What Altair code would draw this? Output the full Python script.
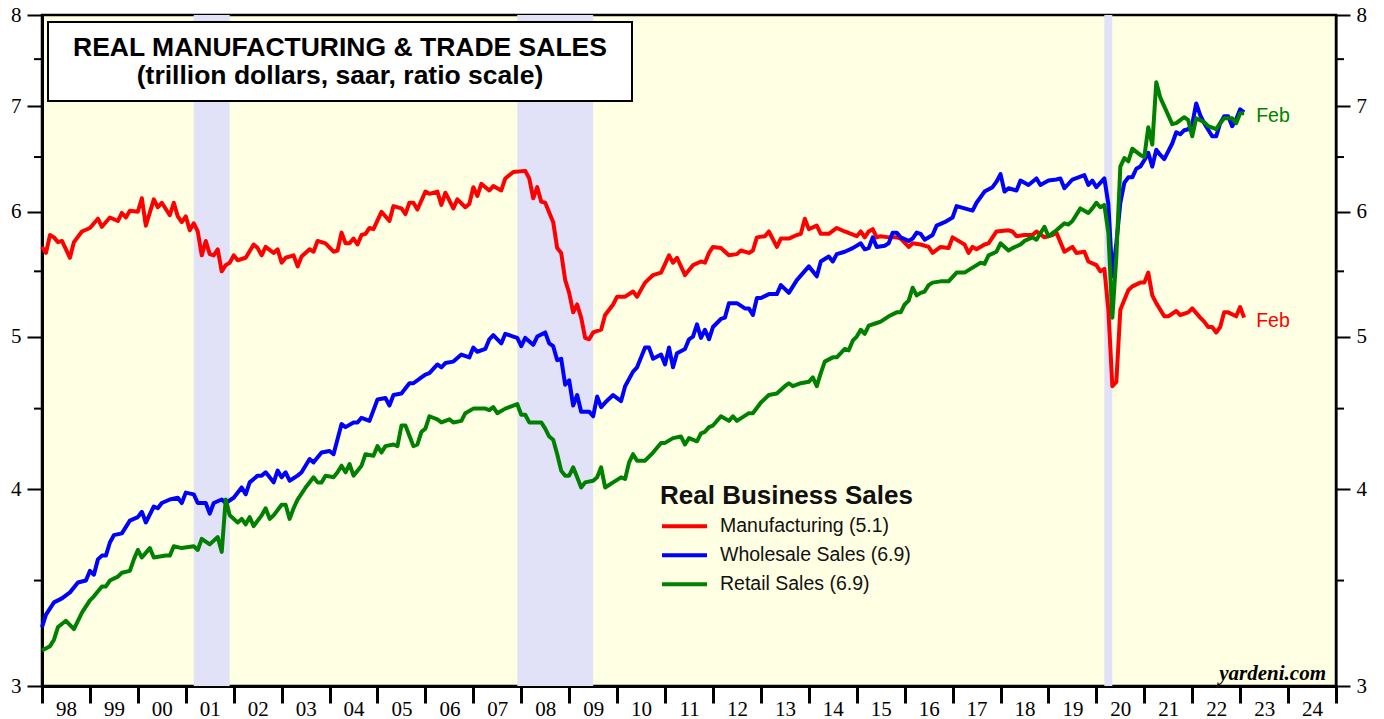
import altair as alt
import pandas as pd

START_YEAR = 1998  # month offsets below count from January 1998

series_names = ["Manufacturing (5.1)", "Wholesale Sales (6.9)", "Retail Sales (6.9)"]
series_colors = ["#FF0000", "#0000FF", "#008000"]

mfg_month = [0,1,2,3,4,5,7,8,10,12,14,15,17,19,20,21,22,24,25,26,28,29,30,32,33,34,35,36,37,38,39,40,41,42,43,44,45,46,47,48,49,51,53,54,55,56,58,59,60,61,63,64,65,67,68,69,71,73,74,75,76,77,78,79,80,81,82,83,85,87,88,90,91,92,93,94,96,97,99,100,101,103,104,106,107,108,109,110,112,113,115,116,118,121,122,123,124,125,126,128,129,130,131,132,133,134,135,136,137,138,140,141,143,144,146,148,149,151,153,155,157,158,159,161,163,165,166,167,168,170,172,174,175,177,178,179,181,182,184,185,187,189,190,191,192,194,195,197,199,201,204,205,206,207,208,209,210,212,214,215,217,218,220,222,223,225,227,228,230,231,232,233,234,236,237,239,242,243,244,246,248,249,251,253,254,256,258,259,261,262,264,265,266,267,268,269,270,272,273,275,276,277,278,279,281,282,284,285,287,288,290,291,292,293,294,295,296,297,299,300,301]
mfg_value = [5.70,5.65,5.80,5.78,5.74,5.75,5.61,5.74,5.83,5.86,5.94,5.87,5.95,5.92,5.99,5.95,6.01,6.00,6.12,5.88,6.11,6.04,6.08,5.97,6.08,5.96,5.91,5.96,5.84,5.90,5.83,5.63,5.75,5.64,5.63,5.68,5.50,5.55,5.57,5.63,5.59,5.61,5.72,5.69,5.63,5.70,5.65,5.68,5.57,5.61,5.63,5.54,5.62,5.68,5.66,5.75,5.73,5.66,5.67,5.82,5.73,5.73,5.77,5.72,5.80,5.81,5.86,5.85,6.00,5.92,6.05,6.03,5.98,6.08,6.08,6.02,6.18,6.16,6.18,6.06,6.17,6.03,6.11,6.04,6.07,6.22,6.14,6.25,6.19,6.23,6.19,6.30,6.36,6.37,6.30,6.12,6.22,6.09,6.08,5.91,5.69,5.65,5.43,5.33,5.18,5.24,5.14,4.99,4.98,5.03,5.05,5.16,5.24,5.30,5.30,5.34,5.30,5.41,5.47,5.49,5.63,5.57,5.61,5.47,5.55,5.58,5.57,5.65,5.70,5.69,5.63,5.64,5.67,5.65,5.67,5.78,5.79,5.83,5.70,5.77,5.77,5.80,5.81,5.94,5.85,5.88,5.81,5.81,5.86,5.83,5.79,5.83,5.78,5.83,5.85,5.78,5.79,5.78,5.78,5.77,5.70,5.73,5.72,5.70,5.65,5.70,5.69,5.78,5.74,5.72,5.65,5.70,5.68,5.72,5.73,5.83,5.84,5.83,5.79,5.80,5.80,5.83,5.78,5.80,5.82,5.66,5.70,5.65,5.66,5.58,5.55,5.50,5.52,5.20,4.65,4.68,5.20,5.35,5.38,5.41,5.41,5.49,5.31,5.25,5.15,5.15,5.19,5.16,5.18,5.21,5.14,5.11,5.07,5.07,5.03,5.07,5.18,5.18,5.15,5.22,5.14]

whl_month = [0,1,3,5,7,9,11,12,13,14,15,16,17,18,20,22,24,25,26,28,29,30,32,34,35,36,38,39,41,42,43,45,46,48,50,51,52,54,55,56,57,58,59,60,61,62,64,65,67,68,70,72,73,75,76,78,79,80,82,84,86,87,88,90,92,93,95,96,97,99,100,101,103,105,107,108,109,111,112,113,115,116,118,119,120,121,123,124,126,127,128,129,130,131,132,133,134,135,136,137,138,139,140,141,143,145,146,148,149,151,152,153,155,156,157,158,159,161,162,163,164,165,166,167,168,170,171,172,174,176,177,178,179,180,182,184,185,187,189,192,194,195,197,198,199,201,203,205,206,207,208,209,211,212,213,214,215,217,218,219,220,221,223,224,226,228,229,231,233,234,236,238,239,240,241,242,244,245,247,249,250,252,254,255,256,258,261,262,263,264,266,267,268,269,270,271,272,273,274,275,276,277,278,279,280,281,283,284,285,286,287,288,289,290,291,293,294,295,296,297,298,299,300,301]
whl_value = [3.27,3.33,3.39,3.41,3.44,3.49,3.50,3.55,3.53,3.61,3.63,3.63,3.70,3.74,3.75,3.82,3.84,3.87,3.81,3.90,3.89,3.92,3.94,3.95,3.92,3.98,3.97,3.92,3.92,3.86,3.92,3.94,3.92,3.95,4.01,3.97,4.04,4.08,4.08,4.10,4.07,4.04,4.11,4.07,4.10,4.05,4.08,4.10,4.18,4.16,4.22,4.23,4.21,4.40,4.38,4.41,4.41,4.44,4.42,4.56,4.57,4.52,4.59,4.60,4.67,4.67,4.71,4.73,4.74,4.80,4.78,4.81,4.82,4.87,4.85,4.92,4.89,4.91,4.98,5.01,4.95,5.02,5.00,4.99,4.93,4.99,4.94,5.00,5.03,4.95,4.93,4.83,4.84,4.66,4.69,4.52,4.59,4.48,4.48,4.48,4.45,4.58,4.51,4.54,4.59,4.55,4.65,4.75,4.78,4.92,4.92,4.84,4.87,4.80,4.92,4.78,4.88,4.91,4.98,5.00,5.09,4.99,5.05,4.98,5.07,5.13,5.14,5.25,5.25,5.21,5.21,5.16,5.29,5.29,5.32,5.32,5.39,5.33,5.43,5.54,5.46,5.58,5.62,5.58,5.64,5.66,5.69,5.73,5.68,5.69,5.78,5.70,5.71,5.73,5.82,5.82,5.78,5.75,5.77,5.82,5.81,5.76,5.80,5.88,5.91,5.95,6.05,6.03,6.01,6.08,6.18,6.22,6.27,6.34,6.18,6.21,6.19,6.28,6.24,6.30,6.24,6.28,6.29,6.30,6.21,6.29,6.33,6.24,6.28,6.22,6.30,6.07,5.46,5.73,6.08,6.26,6.31,6.31,6.39,6.41,6.47,6.54,6.41,6.57,6.52,6.48,6.63,6.74,6.72,6.76,6.77,6.82,7.03,6.91,6.83,6.70,6.70,6.83,6.90,6.90,6.80,6.87,6.97,6.94]

ret_month = [0,2,3,4,6,8,10,12,13,15,16,17,19,20,22,23,24,25,27,28,31,32,33,35,38,39,40,42,44,45,46,47,49,50,51,52,53,55,56,57,58,60,61,62,63,64,66,68,69,70,71,73,74,75,76,77,78,80,81,83,84,85,86,88,89,90,91,93,94,95,96,97,99,100,102,103,105,106,108,110,111,112,113,114,116,117,119,120,121,122,124,125,126,127,128,129,130,131,132,133,134,135,136,138,139,140,141,143,145,146,147,148,149,151,153,155,156,158,160,161,162,164,165,166,167,168,170,172,173,174,177,178,180,182,184,186,187,188,190,192,193,194,195,196,198,199,201,202,203,204,205,206,207,209,210,212,214,215,216,217,218,219,220,221,222,223,225,227,229,231,233,235,236,237,239,240,242,243,245,246,248,249,251,252,254,256,257,258,260,262,263,264,265,266,267,268,269,270,271,272,273,274,275,276,277,278,279,280,281,283,284,286,287,288,289,291,292,294,295,296,298,299,300,301]
ret_value = [3.16,3.18,3.21,3.27,3.30,3.26,3.34,3.40,3.42,3.47,3.47,3.50,3.52,3.54,3.55,3.61,3.66,3.62,3.67,3.62,3.63,3.63,3.68,3.67,3.68,3.66,3.72,3.69,3.73,3.65,3.94,3.85,3.81,3.83,3.80,3.84,3.79,3.85,3.89,3.83,3.85,3.91,3.91,3.83,3.89,3.94,4.01,4.07,4.04,4.04,4.08,4.07,4.10,4.14,4.10,4.15,4.08,4.14,4.21,4.20,4.26,4.22,4.26,4.27,4.26,4.39,4.39,4.26,4.27,4.35,4.37,4.45,4.43,4.41,4.43,4.41,4.42,4.47,4.50,4.50,4.50,4.49,4.51,4.47,4.50,4.51,4.53,4.46,4.46,4.41,4.41,4.41,4.37,4.32,4.30,4.21,4.11,4.08,4.08,4.13,4.07,4.01,4.04,4.05,4.07,4.13,4.01,4.04,4.07,4.06,4.16,4.21,4.17,4.17,4.22,4.28,4.28,4.31,4.32,4.27,4.31,4.29,4.34,4.35,4.38,4.39,4.45,4.42,4.45,4.42,4.47,4.47,4.54,4.59,4.60,4.65,4.67,4.65,4.67,4.68,4.71,4.65,4.74,4.82,4.85,4.85,4.91,4.90,4.97,5.00,5.05,5.02,5.08,5.10,5.11,5.15,5.18,5.18,5.24,5.27,5.37,5.31,5.33,5.34,5.39,5.41,5.42,5.42,5.49,5.49,5.53,5.57,5.56,5.63,5.66,5.73,5.67,5.69,5.72,5.75,5.78,5.76,5.87,5.79,5.84,5.90,5.89,5.92,6.03,5.99,6.03,6.08,6.04,6.06,5.82,5.14,5.62,6.41,6.49,6.46,6.58,6.55,6.52,6.50,6.79,6.62,7.25,7.09,7.00,6.82,6.83,6.89,6.86,6.70,6.88,6.84,6.80,6.77,6.83,6.88,6.88,6.83,6.93,6.93]

recession_start = ["2001-03", "2007-12", "2020-03"]
recession_end = ["2001-12", "2009-07", "2020-05"]

year_ticks = list(range(1998, 2026))
y_major = [3, 4, 5, 6, 7, 8]
y_minor = [3.5, 4.5, 5.5, 6.5, 7.5]
title_lines = ["REAL MANUFACTURING & TRADE SALES", "(trillion dollars, saar, ratio scale)"]
last_label = "Feb"
source = "yardeni.com"

W, H = 1294, 671


def ym_to_dec(s):
    y, m = s.split("-")
    return int(y) + (int(m) - 1) / 12


frames = []
for name, months, vals in zip(series_names, [mfg_month, whl_month, ret_month],
                              [mfg_value, whl_value, ret_value]):
    frames.append(pd.DataFrame({"t": [START_YEAR + m / 12 for m in months],
                                "v": vals, "series": name}))
df = pd.concat(frames, ignore_index=True)
last = df.groupby("series", sort=False).tail(1).reset_index(drop=True)

rec = pd.DataFrame({"s": [ym_to_dec(s) for s in recession_start],
                    "e": [ym_to_dec(s) for s in recession_end]})

xscale = alt.Scale(domain=[1998, 2025], nice=False, zero=False)
yscale = alt.Scale(type="log", domain=[3, 8], nice=False)
SERIF = "Liberation Serif"
SANS = "Liberation Sans"

x_axis = alt.Axis(orient="bottom", values=year_ticks, tickSize=17, tickWidth=3, tickColor="black",
                  domainColor="black", domainWidth=3, labelOffset=24, labelPadding=-5,
                  labelFlush=False, labelAlign="center",
                  labelExpr="datum.value >= 2025 ? '' : substring('' + (100 + datum.value % 100), 1)",
                  labelFont=SERIF, labelFontSize=21, labelColor="black",
                  labelOverlap=False, grid=False, title=None)
left_axis = alt.Axis(orient="left", values=y_major, tickSize=15, tickWidth=2, tickColor="black",
                     domainColor="black", domainWidth=3, labelFont=SERIF, labelFontSize=21,
                     labelColor="black", labelPadding=6, labelOverlap=False, labelFlush=False,
                     grid=False, title=None, format="d")
right_axis = alt.Axis(orient="right", values=y_major, tickSize=14, tickWidth=2, tickColor="black",
                      domainColor="black", domainWidth=2, labelFont=SERIF, labelFontSize=21,
                      labelColor="black", labelPadding=6, labelOverlap=False, labelFlush=False,
                      grid=False, title=None, format="d")


def X(field):
    return alt.X(field, scale=xscale, axis=x_axis)


bands = alt.Chart(rec).mark_rect(color="#E1E1F8").encode(
    x=X("s:Q"), x2="e:Q",
    y=alt.value(0), y2=alt.value(H))

lines = alt.Chart(df).mark_line(strokeWidth=4, strokeJoin="round").encode(
    x=X("t:Q"),
    y=alt.Y("v:Q", scale=yscale, axis=left_axis),
    color=alt.Color("series:N", sort=series_names,
                    scale=alt.Scale(domain=series_names, range=series_colors),
                    legend=alt.Legend(title="Real Business Sales", orient="none",
                                      legendX=618, legendY=468, symbolType="stroke",
                                      symbolSize=2025, symbolStrokeWidth=4, clipHeight=28.5,
                                      labelFont=SANS, labelFontSize=19.5, labelColor="#111111",
                                      labelLimit=500, titleLimit=500,
                                      titleFont=SANS, titleFontSize=26, titleFontWeight="bold",
                                      titleColor="#111111", titlePadding=3, labelOffset=11,
                                      padding=0, rowPadding=0)))

minor_df = pd.DataFrame({"v": y_minor})
minor_left = alt.Chart(minor_df).mark_rule(color="black", strokeWidth=2).encode(
    y=alt.Y("v:Q", scale=yscale, axis=None), x=alt.value(-8), x2=alt.value(0))
minor_right = alt.Chart(minor_df).mark_rule(color="black", strokeWidth=2).encode(
    y=alt.Y("v:Q", scale=yscale, axis=right_axis), x=alt.value(W), x2=alt.value(W + 8))

feb_red = alt.Chart(last.iloc[[0]]).mark_text(align="left", baseline="middle", dx=12, dy=3,
                                              font=SANS, fontSize=19.5, color="#FF0000").encode(
    x=X("t:Q"), y=alt.Y("v:Q", scale=yscale, axis=None),
    text=alt.value(last_label))
feb_green = alt.Chart(last.iloc[[2]]).mark_text(align="left", baseline="middle", dx=12, dy=3,
                                                font=SANS, fontSize=19.5, color="#008000").encode(
    x=X("t:Q"), y=alt.Y("v:Q", scale=yscale, axis=None),
    text=alt.value(last_label))

box = alt.Chart(pd.DataFrame({"k": [0]})).mark_rect(fill="white", stroke="black", strokeWidth=2).encode(
    x=alt.value(6), x2=alt.value(590), y=alt.value(7), y2=alt.value(86))
tdf = pd.DataFrame({"txt": title_lines, "yy": [33, 61]})
title_txt = alt.Chart(tdf).mark_text(font=SANS, fontSize=26.5, fontWeight="bold", align="center",
                                     baseline="middle", color="black").encode(
    x=alt.value(298), y=alt.Y("yy:Q", scale=None, axis=None), text="txt:N")

src = alt.Chart(pd.DataFrame({"txt": [source]})).mark_text(
    font=SERIF, fontSize=21, fontWeight="bold", fontStyle="italic", align="right",
    baseline="alphabetic", color="black").encode(
    x=alt.value(W - 10), y=alt.value(H - 6), text="txt:N")

chart = alt.layer(bands, minor_left, lines, minor_right, feb_red, feb_green, box, title_txt, src).resolve_axis(
    y="independent").properties(
    width=W, height=H, autosize=alt.AutoSizeParams(type="none"),
    padding={"left": 42, "top": 15, "right": 48, "bottom": 33},
    background="white"
).configure_view(stroke="black", strokeWidth=2.5, fill="#FFFFE4")

chart.save("out.html", embed_options={"renderer": "svg", "actions": False})
